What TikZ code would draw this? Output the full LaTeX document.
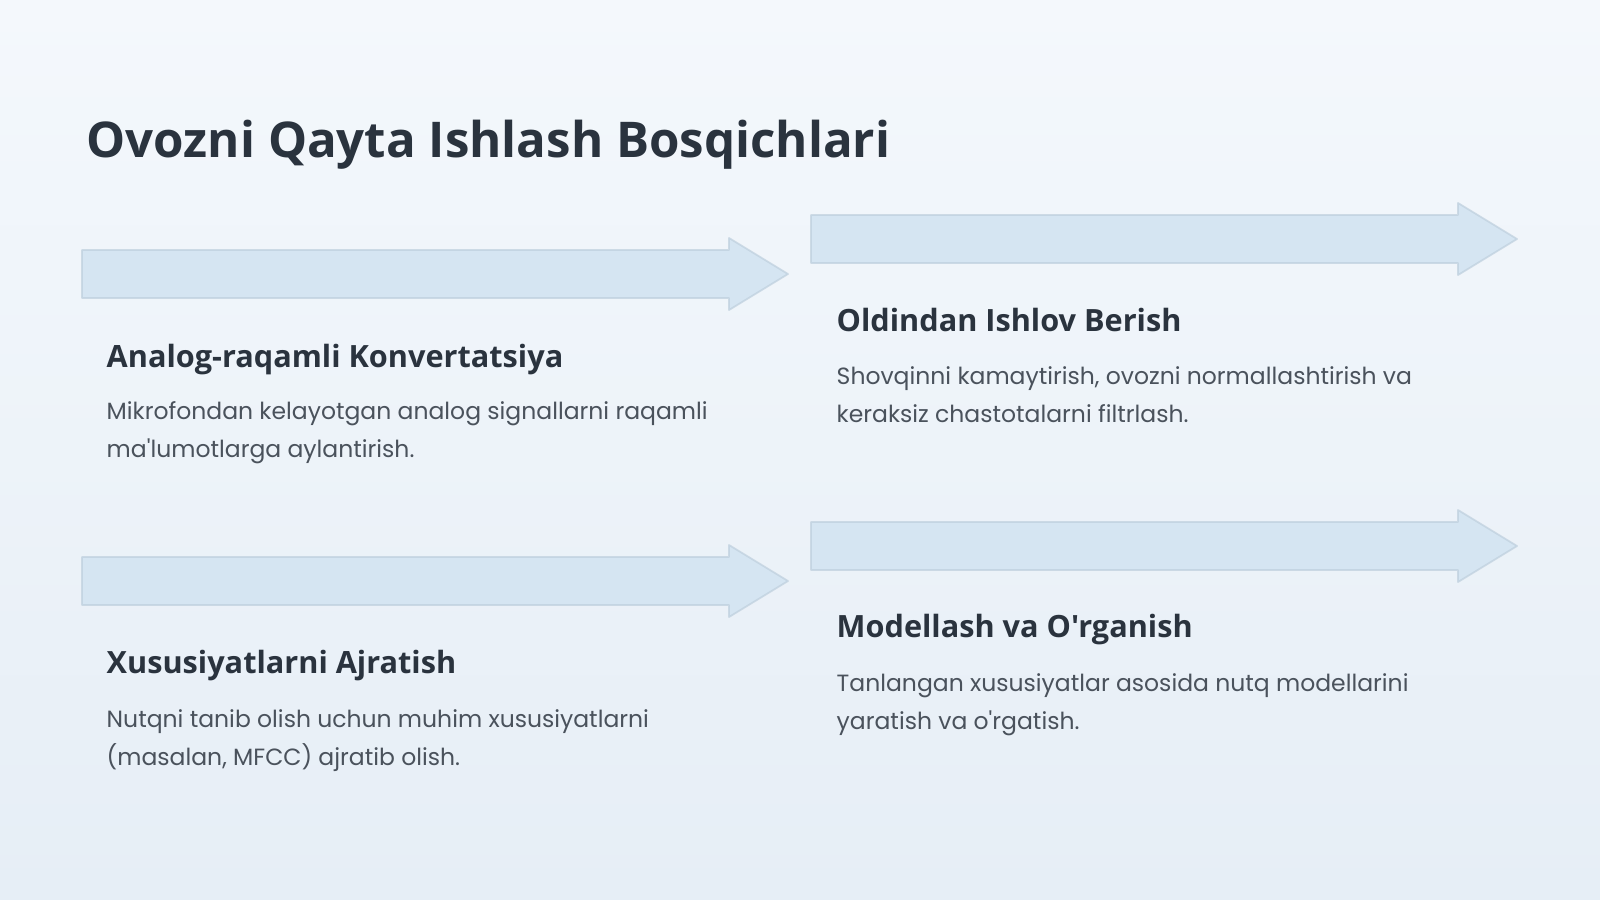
\documentclass[tikz,border=0pt]{standalone}
\usepackage{fontspec}
\setmainfont{Poppins}
\newfontfamily\headfont{Open Sans}
\usetikzlibrary{calc}

\definecolor{bgtop}{RGB}{244,248,252}
\definecolor{bgbottom}{RGB}{230,238,246}
\definecolor{arrowfill}{RGB}{211,228,242}
\definecolor{arrowedge}{RGB}{190,207,221}
\definecolor{titleink}{RGB}{42,51,62}
\definecolor{bodyink}{RGB}{74,82,92}

\tikzset{
    stagearrow/.style={fill=arrowfill, draw=arrowedge, draw opacity=0.7, line width=0.5pt, fill opacity=0.9, line join=round},
    pagetitle/.style={anchor=base west, inner sep=0pt, text=titleink,
        font=\headfont\bfseries\fontsize{14pt}{16pt}\selectfont},
    stagehead/.style={anchor=base west, inner sep=0pt, text=titleink,
        font=\headfont\bfseries\fontsize{8.72pt}{10pt}\selectfont},
    stagetext/.style={anchor=base west, inner sep=0pt, align=left, text=bodyink,
        font=\fontsize{6.68pt}{10.53pt}\selectfont}
}

\begin{document}
\begin{tikzpicture}[x=0.01cm, y=-0.01cm]
    % Background
    \shade[top color=bgtop, bottom color=bgbottom] (0,0) rectangle (1600,900);
    \useasboundingbox (0,0) rectangle (1600,900);
    % Definitions
    \coordinate (Aconv)  at (82,250);
    \coordinate (Aprep)  at (811,215);
    \coordinate (Afeat)  at (82,557);
    \coordinate (Amodel) at (811,522);
    % Title
    \node[pagetitle] (title) at (86,157) {Ovozni Qayta Ishlash Bosqichlari};
    % Arrows
    \foreach \a in {Aconv,Aprep,Afeat,Amodel}
        \draw[stagearrow] (\a) -- ++(647,0) -- ++(0,-12) -- ++(59,36) -- ++(-59,36) -- ++(0,-12) -- ++(-647,0) -- cycle;
    % Step 1
    \node[stagehead] (hconv) at ($(Aconv)+(24,117)$) {Analog-raqamli Konvertatsiya};
    \node[stagetext] (tconv) at ($(Aconv)+(24,207)$) {Mikrofondan kelayotgan analog signallarni raqamli\\ma\textquotesingle lumotlarga aylantirish.};
    % Step 2
    \node[stagehead] (hprep) at ($(Aprep)+(25,116)$) {Oldindan Ishlov Berish};
    \node[stagetext] (tprep) at ($(Aprep)+(25,207)$) {Shovqinni kamaytirish, ovozni normallashtirish va\\keraksiz chastotalarni filtrlash.};
    % Step 3
    \node[stagehead] (hfeat) at ($(Afeat)+(24,116)$) {Xususiyatlarni Ajratish};
    \node[stagetext] (tfeat) at ($(Afeat)+(24,208)$) {Nutqni tanib olish uchun muhim xususiyatlarni\\(masalan, MFCC) ajratib olish.};
    % Step 4
    \node[stagehead] (hmodel) at ($(Amodel)+(25,115)$) {Modellash va O'rganish};
    \node[stagetext] (tmodel) at ($(Amodel)+(25,207)$) {Tanlangan xususiyatlar asosida nutq modellarini\\yaratish va o\textquotesingle rgatish.};
\end{tikzpicture}
\end{document}
